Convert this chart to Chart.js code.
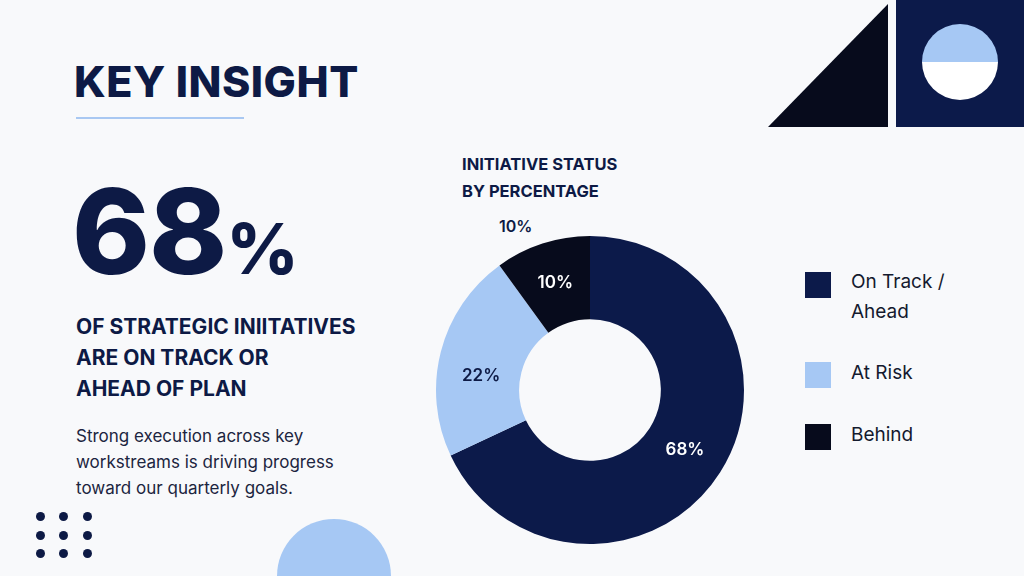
<!DOCTYPE html>
<html><head><meta charset="utf-8">
<script src="https://cdn.jsdelivr.net/npm/chart.js@4"></script>
<style>
body{margin:0;width:1024px;height:576px;background:#f8f9fb;font-family:Inter,"Noto Sans",sans-serif;position:relative;overflow:hidden;color:#0d1a45}
.abs{position:absolute}
h1{position:absolute;left:74px;top:55px;margin:0;font-size:43px;font-weight:800;letter-spacing:0.5px}
.rule{left:76px;top:117px;width:168px;height:2px;background:#a9c8f2}
.big{left:72px;top:172px;font-size:118px;font-weight:800;line-height:1;letter-spacing:-1px}
.big span{font-size:70px}
.sub{left:76px;top:311px;font-size:21px;font-weight:700;line-height:31px}
.desc{left:76px;top:423px;font-size:17px;line-height:26px;color:#1c2540}
.ctitle{left:462px;top:151px;font-size:16.5px;font-weight:700;line-height:27px}
.leg{left:805px;font-size:19px;color:#141a2e;line-height:30px}
.sw{position:absolute;left:0;width:26px;height:26px}
.leg div.t{margin-left:46px}
#wrap{left:430px;top:229px;width:320px;height:322px}
.dot{width:9px;height:9px;border-radius:50%;background:#0d1a45}
</style></head><body>
<svg class="abs" style="left:0;top:0" width="1024" height="576">
<polygon points="768,127 888,127 888,4" fill="#070b1c"/>
<rect x="896" y="0" width="128" height="127" fill="#0c1a4a"/>
<path d="M922,62 A38,38 0 0 1 998,62 Z" fill="#a6c8f4"/>
<path d="M922,62 A38,38 0 0 0 998,62 Z" fill="#fff"/>
<path d="M277,576 A57,57 0 0 1 391,576 Z" fill="#a6c8f4"/>
</svg>
<h1>KEY INSIGHT</h1>
<div class="abs rule"></div>
<div class="abs big">68<span>%</span></div>
<div class="abs sub">OF STRATEGIC INIITATIVES<br>ARE ON TRACK OR<br>AHEAD OF PLAN</div>
<div class="abs desc">Strong execution across key<br>workstreams is driving progress<br>toward our quarterly goals.</div>
<div class="abs ctitle">INITIATIVE STATUS<br>BY PERCENTAGE</div>
<div class="abs" style="left:499px;top:216px;font-size:16px;font-weight:600">10%</div>
<div id="wrap" class="abs"><canvas id="c"></canvas></div>
<div class="abs leg" style="top:267px"><div class="sw" style="background:#0c1a4a;top:5px"></div><div class="t">On Track /<br>Ahead</div></div>
<div class="abs leg" style="top:358px"><div class="sw" style="background:#a6c8f4;top:4px"></div><div class="t">At Risk</div></div>
<div class="abs leg" style="top:420px"><div class="sw" style="background:#070b1c;top:4px"></div><div class="t">Behind</div></div>
<div id="dots"></div>
<script>
const labels = ['On Track / Ahead', 'At Risk', 'Behind'];
const values = [68, 22, 10];
const colors = ['#0c1a4a', '#a6c8f4', '#070b1c'];
const labelColors = ['#ffffff', '#0d1a45', '#ffffff'];

const dots = document.getElementById('dots');
[40, 63, 87].forEach(x => [516, 535, 553].forEach(y => {
    const d = document.createElement('div');
    d.className = 'abs dot';
    d.style.left = (x - 4) + 'px';
    d.style.top = (y - 4) + 'px';
    dots.appendChild(d);
}));

// percent labels inside segments
const segLabels = {
    id: 'segLabels',
    afterDatasetsDraw(chart) {
        const ctx = chart.ctx;
        chart.getDatasetMeta(0).data.forEach((arc, i) => {
            const p = arc.tooltipPosition();
            ctx.save();
            ctx.font = '600 17px Inter, sans-serif';
            ctx.fillStyle = labelColors[i];
            ctx.textAlign = 'center';
            ctx.textBaseline = 'middle';
            ctx.fillText(values[i] + '%', p.x, p.y + (i === 1 ? 14 : 0));
            ctx.restore();
        });
    }
};

new Chart(document.getElementById('c'), {
    type: 'doughnut',
    data: {
        labels: labels,
        datasets: [{ data: values, backgroundColor: colors, borderWidth: 0 }]
    },
    options: {
        responsive: true,
        maintainAspectRatio: false,
        animation: false,
        cutout: '46%',
        layout: { padding: 6 },
        plugins: { legend: { display: false }, tooltip: { enabled: false } }
    },
    plugins: [segLabels]
});
</script>
</body></html>
